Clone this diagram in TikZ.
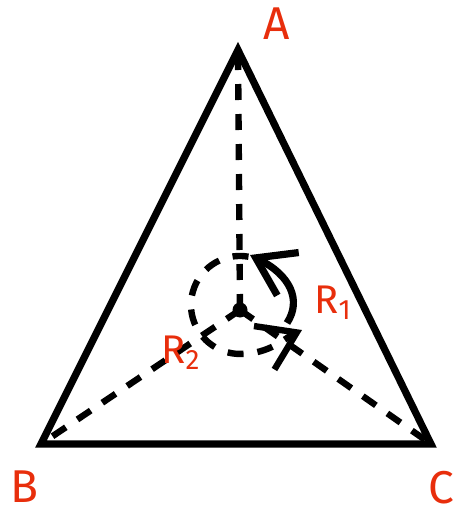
\documentclass[tikz,border=0pt]{standalone}
\usepackage{fontspec}
\setmainfont{Fira Sans}
\usetikzlibrary{arrows.meta}
\definecolor{labred}{RGB}{232,46,12}

\begin{document}
\begin{tikzpicture}[x=0.5pt,y=-0.5pt,
  side/.style={line width=3.6pt, line join=miter},
  spoke/.style={line width=3.2pt, dash pattern=on 8pt off 7pt},
  barb/.style={-{Straight Barb[length=18pt,width=24pt]}},
  turn/.style={line width=3.6pt, barb},
  vlabel/.style={text=labred, font=\fontsize{23}{25}\selectfont, inner sep=0pt, anchor=base},
  rlabel/.style={text=labred, font=\fontsize{20}{22}\selectfont, inner sep=0pt, anchor=base west}]
\useasboundingbox (0,0) rectangle (460,513);
% corners and centre
\coordinate (A) at (238,50);
\coordinate (B) at (41,444);
\coordinate (C) at (431,444);
\coordinate (O) at (240,310);
% ends of the two turn arrows
\coordinate (r1s) at (287,323);
\coordinate (r1e) at (250,255);
\coordinate (r2s) at (248.5,256.7);
\coordinate (r2e) at (302,330);

% spokes from the centre
\draw[spoke] (O) -- (A);
\draw[spoke] (O) -- (B);
\draw[spoke] (O) -- (C);
\fill (O) circle[radius=7.5];

% triangle
\draw[side] (A) -- (B) -- (C) -- cycle;

% rotations
\draw[turn] (r1s) .. controls (302,300) and (290,275) .. (r1e);
\draw[spoke, barb] (r2s)
  arc[start angle=280, end angle=90, radius=49] .. controls (270,354) and (285,338) .. (r2e);

% labels
\node[vlabel] (labA) at (277,40) {A};
\node[vlabel] (labB) at (24,502) {B};
\node[vlabel] (labC) at (441,503) {C};
\node[rlabel] (labR1) at (314,313) {R\textsubscript{1}};
\node[rlabel] (labR2) at (161,363) {R\textsubscript{2}};
\end{tikzpicture}
\end{document}
